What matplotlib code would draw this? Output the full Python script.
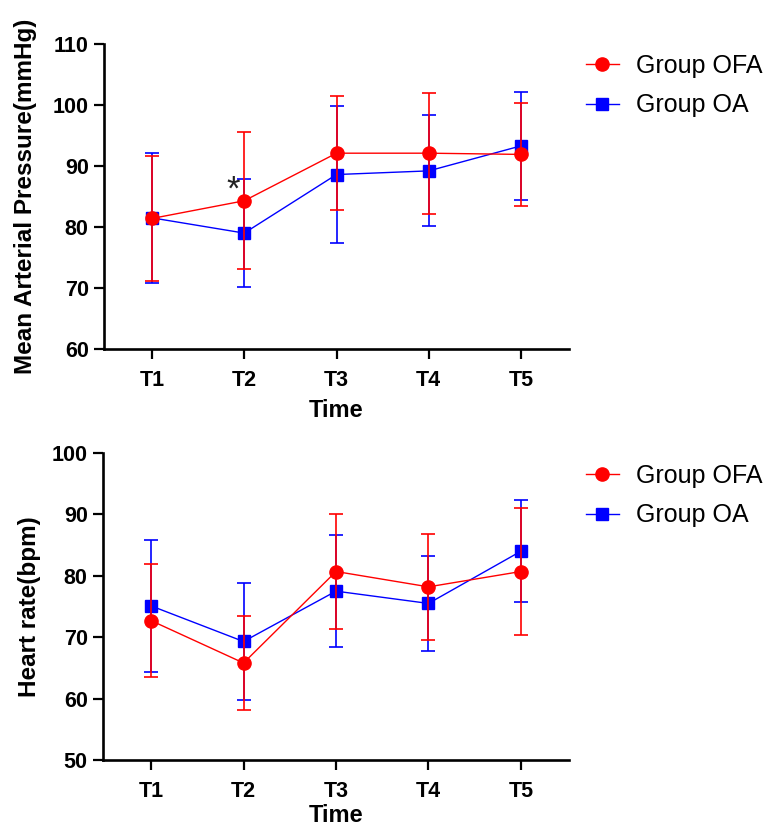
import numpy as np
import matplotlib
matplotlib.use("Agg")
import matplotlib.pyplot as plt
from matplotlib.lines import Line2D

plt.rcParams['font.family'] = ['Liberation Sans', 'DejaVu Sans']

# data (mean and SD)
times = ['T1', 'T2', 'T3', 'T4', 'T5']

map_ofa = [81.4, 84.3, 92.1, 92.1, 91.9]
map_ofa_sd = [10.3, 11.2, 9.3, 9.9, 8.5]
map_oa = [81.5, 79.0, 88.6, 89.2, 93.3]
map_oa_sd = [10.7, 8.9, 11.2, 9.1, 8.8]

hr_ofa = [72.7, 65.8, 80.7, 78.2, 80.7]
hr_ofa_sd = [9.2, 7.6, 9.3, 8.6, 10.3]
hr_oa = [75.1, 69.3, 77.5, 75.5, 84.0]
hr_oa_sd = [10.8, 9.5, 9.1, 7.8, 8.3]

RED = '#ff0000'
BLUE = '#0000ff'


def draw_panel(ax, ofa, ofa_sd, oa, oa_sd, ylim, yticks, ylabel, ypad, xpad):
    x = np.arange(1, len(times) + 1)
    # OA first so OFA lies on top
    ax.errorbar(x, oa, yerr=oa_sd, color=BLUE, lw=1.0, elinewidth=1.2,
                capsize=4.8, capthick=1.2, marker='s', markersize=8.5,
                markerfacecolor=BLUE, markeredgecolor=BLUE, zorder=2)
    ax.errorbar(x, ofa, yerr=ofa_sd, color=RED, lw=1.0, elinewidth=1.2,
                capsize=4.8, capthick=1.2, marker='o', markersize=9.5,
                markerfacecolor=RED, markeredgecolor=RED, zorder=3)
    ax.set_xlim(0.48, 5.52)
    ax.set_ylim(*ylim)
    ax.set_yticks(yticks)
    ax.set_xticks(x)
    ax.set_xticklabels(times)
    for s in ['top', 'right']:
        ax.spines[s].set_visible(False)
    for s in ['left', 'bottom']:
        ax.spines[s].set_linewidth(1.9)
    ax.tick_params(axis='both', length=7, width=1.6, labelsize=15.5)
    ax.tick_params(axis='x', pad=8)
    ax.tick_params(axis='y', pad=4)
    for lab in ax.get_xticklabels() + ax.get_yticklabels():
        lab.set_fontweight('bold')
    ax.set_xlabel('Time', fontsize=17, fontweight='bold', labelpad=xpad)
    ax.set_ylabel(ylabel, fontsize=17.5, fontweight='bold', labelpad=ypad)


fig = plt.figure(figsize=(7.68, 8.31), dpi=100)
ax1 = fig.add_axes([104 / 768, 1 - 349 / 831, 465 / 768, 305 / 831])
ax2 = fig.add_axes([103 / 768, 1 - 760 / 831, 466 / 768, 307 / 831])

draw_panel(ax1, map_ofa, map_ofa_sd, map_oa, map_oa_sd, (60, 110),
           [60, 70, 80, 90, 100, 110], 'Mean Arterial Pressure(mmHg)', 11, 6)
draw_panel(ax2, hr_ofa, hr_ofa_sd, hr_oa, hr_oa_sd, (50, 100),
           [50, 60, 70, 80, 90, 100], 'Heart rate(bpm)', 8, 1.5)

# significance mark at T2
ax1.text(1.88, 86.0, '*', fontsize=25, ha='center', va='center', color='#222222')

handles = [
    Line2D([], [], color=RED, lw=1.0, marker='o', markersize=9.5,
           markerfacecolor=RED, markeredgecolor=RED),
    Line2D([], [], color=BLUE, lw=1.0, marker='s', markersize=8.5,
           markerfacecolor=BLUE, markeredgecolor=BLUE),
]
labels = ['Group OFA', 'Group OA']
for yc in [1 - 85.5 / 831, 1 - 495.5 / 831]:
    fig.legend(handles, labels, loc='center left', bbox_to_anchor=(586 / 768, yc),
               frameon=False, fontsize=18, handlelength=1.3, handletextpad=0.7,
               labelspacing=0.62, borderpad=0, borderaxespad=0)

fig.savefig('out.png', dpi=100)
